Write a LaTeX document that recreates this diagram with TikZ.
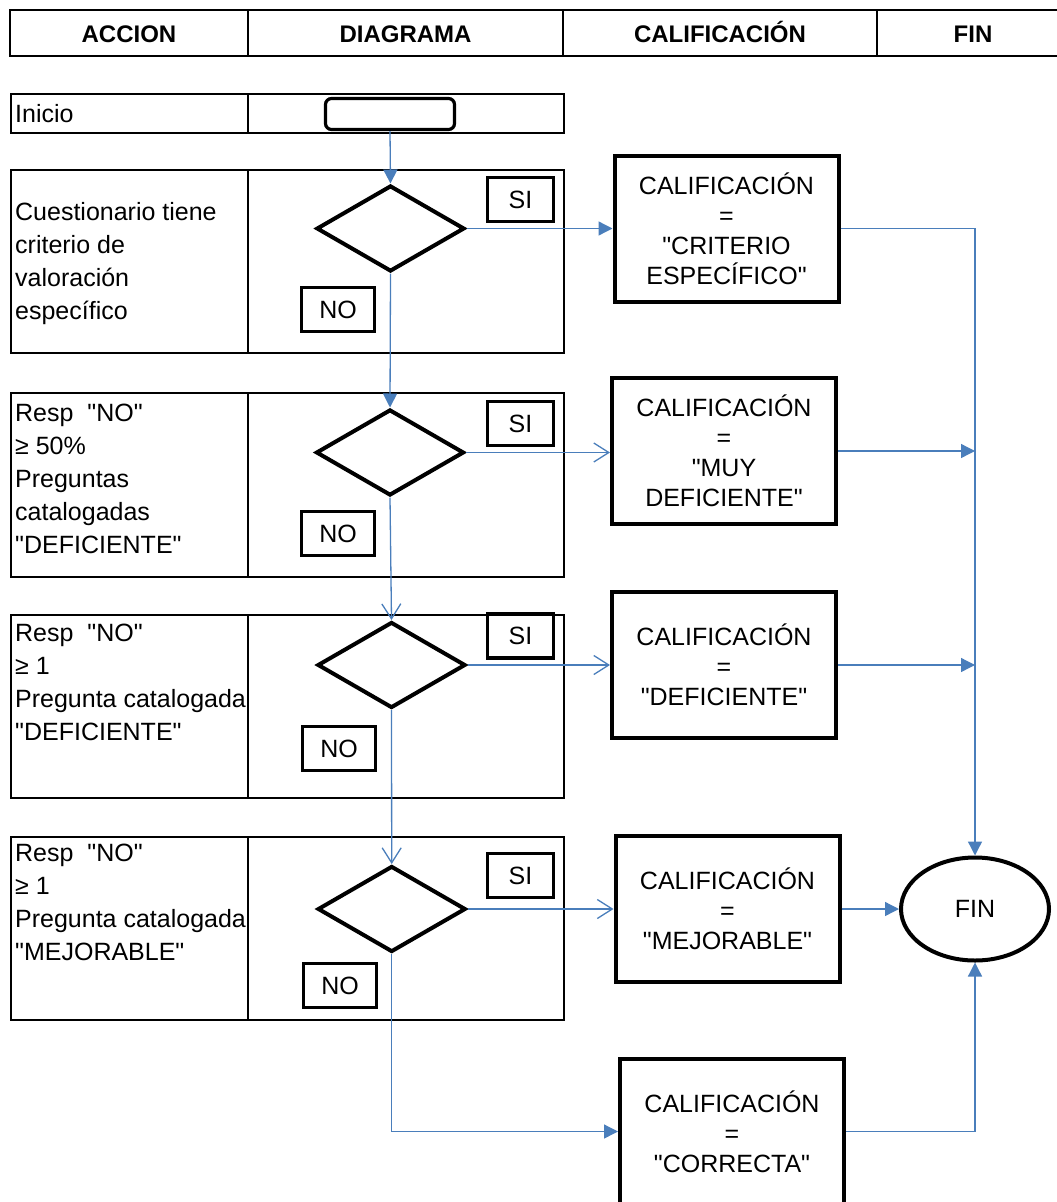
\documentclass[tikz,border=0pt]{standalone}
\usepackage{fontspec}
\setmainfont{Liberation Sans}[Ligatures=TeXOff]
\usetikzlibrary{shapes.geometric, arrows.meta}
\definecolor{linkblue}{HTML}{4A7EBB}
\begin{document}
\begin{tikzpicture}[x=1pt,y=-1pt,
  every node/.style={font=\fontsize{25}{33}\selectfont},
  cell/.style={draw=black, line width=2pt},
  hdr/.style={anchor=base, inner sep=0pt, font=\fontsize{24}{28}\selectfont\bfseries},
  act/.style={anchor=base west, align=left, inner sep=0pt, font=\fontsize{25}{33}\selectfont},
  dec/.style={draw, diamond, line width=4pt, minimum width=148pt, minimum height=86pt, inner sep=0pt},
  lab/.style={draw, line width=3.2pt, inner sep=0pt},
  res/.style={draw, line width=4pt, minimum width=224pt, minimum height=146pt, align=center, inner sep=0pt, font=\fontsize{25}{30}\selectfont},
  term/.style={draw, line width=3.2pt, rounded corners=6pt, minimum width=129pt, minimum height=31pt, inner sep=0pt},
  endst/.style={draw, ellipse, line width=4pt, minimum width=148pt, minimum height=103pt, inner sep=0pt},
  link/.style={draw=linkblue, line width=1.3pt},
  fa/.style={link, -{Triangle[length=14pt,width=14pt]}},
  oa/.style={link, -{Straight Barb[length=15pt,width=19pt]}},
]
\useasboundingbox (0,0) rectangle (1057,1202);
\clip (0,0) rectangle (1057,1202);

% header
\draw[cell] (10,10) rectangle (1069,56);
\draw[cell] (248,10) -- (248,56) (563,10) -- (563,56) (877,10) -- (877,56);
\node[hdr] (h1) at (129,42) {ACCION};
\node[hdr] (h2) at (405.5,42) {DIAGRAMA};
\node[hdr] (h3) at (720,42) {CALIFICACIÓN};
\node[hdr] (h4) at (973,42) {FIN};

% table rows
\foreach \t/\b in {94/133, 170/353, 393/577, 615/798, 837/1020}{
  \draw[cell] (11,\t) rectangle (564,\b);
  \draw[cell] (248,\t) -- (248,\b);
}

% action texts (anchor = baseline of the last line)
\node[act] (a0) at (15,122) {Inicio};
\node[act] (a1) at (15,319) {Cuestionario tiene\\criterio de\\valoración\\específico};
\node[act] (a2) at (15,553) {Resp\ \ "NO"\\≥ 50\%\\Preguntas\\catalogadas\\"DEFICIENTE"};
\node[act] (a3) at (15,740) {Resp\ \ "NO"\\≥ 1\\Pregunta catalogada\\"DEFICIENTE"};
\node[act] (a4) at (15,960) {Resp\ \ "NO"\\≥ 1\\Pregunta catalogada\\"MEJORABLE"};

% diagram
\node[term] (start) at (390,114) {};
\node[dec] (d1) at (390.5,228.5) {};
\node[dec] (d2) at (390,452.5) {};
\node[dec] (d3) at (391.5,665) {};
\node[dec] (d4) at (391.7,909) {};

\node[lab, minimum width=66pt, minimum height=44pt] (s1) at (520.5,199.5) {SI};
\node[lab, minimum width=66pt, minimum height=44pt] (s2) at (520.5,423.5) {SI};
\node[lab, minimum width=66pt, minimum height=44pt] (s3) at (520.5,636) {SI};
\node[lab, minimum width=66pt, minimum height=44pt] (s4) at (520.5,875.5) {SI};
\node[lab, minimum width=73pt, minimum height=44pt] (n1) at (338,309.5) {NO};
\node[lab, minimum width=73pt, minimum height=44pt] (n2) at (338,533.5) {NO};
\node[lab, minimum width=73pt, minimum height=44pt] (n3) at (339,748.5) {NO};
\node[lab, minimum width=73pt, minimum height=44pt] (n4) at (340,985.5) {NO};

% results
\node[res] (c1) at (726.5,228.5) {CALIFICACIÓN\\=\\"CRITERIO\\ESPECÍFICO"};
\node[res] (c2) at (724,451) {CALIFICACIÓN\\=\\"MUY\\DEFICIENTE"};
\node[res] (c3) at (724,665) {CALIFICACIÓN\\=\\"DEFICIENTE"};
\node[res] (c4) at (727.5,909) {CALIFICACIÓN\\=\\"MEJORABLE"};
\node[res] (c5) at (732,1131.5) {CALIFICACIÓN\\=\\"CORRECTA"};

\node[endst] (fin) at (975,909) {FIN};

% connectors
\draw[fa] (start.south) -- (d1.north);
\draw[fa] (d1.south) -- (d2.north);
\draw[oa] (d2.south) -- (d3.north);
\draw[oa] (d3.south) -- (d4.north);
\draw[fa] (d4.south) |- (c5.west);
\draw[fa] (d1.east) -- (d1.east -| c1.west);
\draw[oa] (d2.east) -- (d2.east -| c2.west);
\draw[oa] (d3.east) -- (d3.east -| c3.west);
\draw[oa] (d4.east) -- (d4.east -| c4.west);
\draw[fa] (c1.east) -| (fin.north);
\draw[fa] (c2.east) -- (c2.east -| fin.north);
\draw[fa] (c3.east) -- (c3.east -| fin.north);
\draw[fa] (c4.east) -- (fin.west);
\draw[fa] (c5.east) -| (fin.south);
\end{tikzpicture}
\end{document}
